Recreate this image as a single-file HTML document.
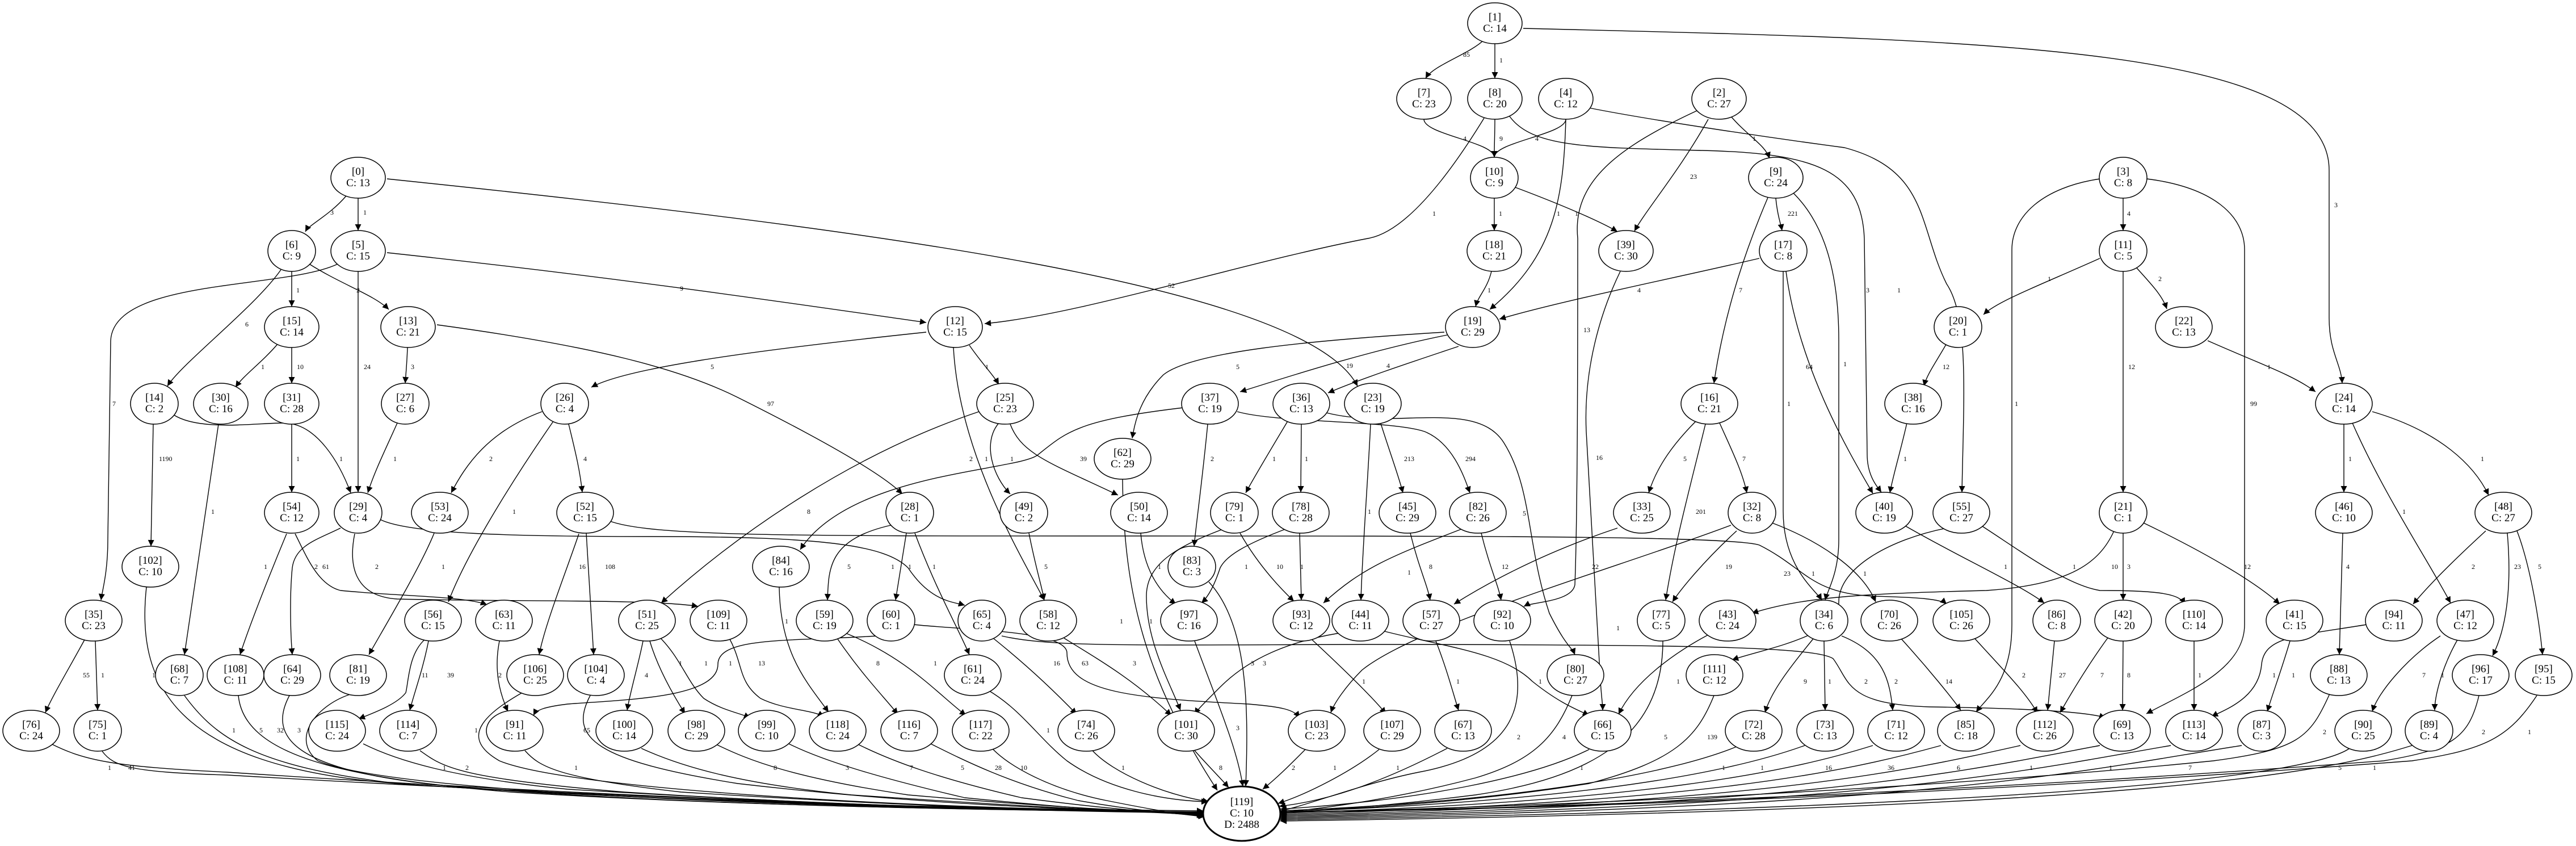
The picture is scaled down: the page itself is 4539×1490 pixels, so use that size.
<!DOCTYPE html>
<html><head><meta charset="utf-8"><style>
html,body{margin:0;padding:0;background:#fff;}
svg{display:block;}
.n ellipse{fill:#fff;stroke:#000;stroke-width:1.5;}
.n text{font-family:"Liberation Serif",serif;font-size:19px;text-anchor:middle;fill:#000;}
.e path{fill:none;stroke:#000;stroke-width:1.4;marker-end:url(#a);}
.l text{font-family:"Liberation Serif",serif;font-size:12px;fill:#000;}
</style></head><body>
<svg width="4539" height="1490" viewBox="0 0 4539 1490" xmlns="http://www.w3.org/2000/svg">
<defs><marker id="a" viewBox="0 0 10 10" refX="10" refY="5" markerWidth="14" markerHeight="11" markerUnits="userSpaceOnUse" orient="auto"><path d="M0,0 L10,5 L0,10 z" fill="#000"/></marker></defs>
<g class="e">
<path d="M2615 70 C2590 95,2525 115,2512 138"/>
<path d="M2634 77 C2634 101,2634 114,2634 138"/>
<path d="M2684 50 C3500 70,4104 80,4104 300 L4104 560 C4104 620,4125 640,4127 675"/>
<path d="M2509 210 C2509 237,2633 250,2633 277"/>
<path d="M2634 210 C2634 237,2633 250,2633 277"/>
<path d="M2759 210 C2759 237,2633 250,2633 277"/>
<path d="M2615 208 C2540 330,2470 410,2410 420 C2200 460,1900 555,1735 570"/>
<path d="M2660 205 C2700 260,2800 260,3000 265 C3200 270,3280 300,3285 420 L3290 800 C3290 840,3310 860,3315 867"/>
<path d="M2759 210 C2755 350,2740 450,2625 545"/>
<path d="M2800 190 C2900 210,3100 240,3250 260 C3400 300,3380 400,3430 500 C3470 560,3460 700,3457 867"/>
<path d="M3050 205 C3080 240,3110 255,3118 279"/>
<path d="M3010 210 C2960 300,2900 370,2880 407"/>
<path d="M2990 195 C2850 260,2770 320,2780 420 C2780 600,2780 900,2775 1030 C2770 1060,2700 1060,2685 1068"/>
<path d="M2633 349 C2633 380,2633 395,2633 406"/>
<path d="M2670 330 C2750 360,2820 390,2850 408"/>
<path d="M2628 478 C2620 510,2605 520,2600 540"/>
<path d="M3129 349 C3132 380,3138 395,3140 406"/>
<path d="M3115 348 C3080 430,3040 540,3020 675"/>
<path d="M3160 340 C3200 380,3240 450,3240 600 L3240 950 C3240 1010,3220 1040,3216 1057"/>
<path d="M3100 455 C2950 490,2750 530,2642 562"/>
<path d="M3147 478 C3170 650,3260 800,3300 869"/>
<path d="M3142 478 L3142 900 C3142 1000,3200 1040,3210 1057"/>
<path d="M2855 478 C2820 550,2790 650,2795 760 L2820 1200 C2822 1230,2824 1240,2824 1251"/>
<path d="M610 345 C580 380,545 395,538 408"/>
<path d="M631 349 C631 375,631 395,631 406"/>
<path d="M682 315 C1500 400,2300 500,2392 680"/>
<path d="M495 475 C450 540,320 640,295 680"/>
<path d="M514 478 L514 540"/>
<path d="M545 465 C600 500,660 520,685 545"/>
<path d="M595 465 C500 510,200 490,195 600 L190 950 C190 1010,180 1040,178 1057"/>
<path d="M631 478 L631 867"/>
<path d="M682 445 C1100 490,1400 535,1632 568"/>
<path d="M490 605 C460 640,430 660,415 682"/>
<path d="M514 612 L514 675"/>
<path d="M718 612 C717 640,715 660,714 675"/>
<path d="M770 572 C1050 610,1200 650,1300 700 C1420 760,1550 830,1590 870"/>
<path d="M1632 585 C1300 620,1100 650,1042 682"/>
<path d="M1708 608 C1730 640,1750 660,1760 677"/>
<path d="M1680 612 C1690 800,1800 980,1840 1057"/>
<path d="M2545 585 C2300 600,2100 620,2050 660 C2010 700,2000 740,1995 772"/>
<path d="M2550 590 C2400 620,2250 670,2185 690"/>
<path d="M2570 610 C2480 640,2390 670,2340 692"/>
<path d="M270 747 L266 962"/>
<path d="M305 730 C350 760,450 745,500 745 C560 745,600 820,618 868"/>
<path d="M385 747 L325 1153"/>
<path d="M514 747 L514 867"/>
<path d="M700 745 C680 790,660 830,648 868"/>
<path d="M955 725 C860 760,820 820,795 868"/>
<path d="M975 742 C900 850,820 980,790 1060"/>
<path d="M1002 747 C1015 800,1022 830,1026 867"/>
<path d="M1725 725 C1500 800,1300 940,1165 1062"/>
<path d="M1760 745 C1730 780,1750 840,1780 870"/>
<path d="M1780 747 C1800 800,1850 815,1970 872"/>
<path d="M2085 718 C1900 740,1880 760,1830 800 C1800 830,1500 830,1410 968"/>
<path d="M2128 747 C2118 850,2108 920,2104 962"/>
<path d="M2180 725 C2250 745,2450 740,2510 760 C2560 780,2580 840,2590 868"/>
<path d="M2270 740 C2240 790,2210 840,2195 868"/>
<path d="M2293 747 L2292 867"/>
<path d="M2330 725 C2450 760,2600 700,2650 780 C2700 860,2690 960,2730 1080 C2760 1140,2770 1140,2775 1153"/>
<path d="M2415 747 C2410 850,2400 980,2398 1057"/>
<path d="M2433 746 C2450 800,2465 840,2472 868"/>
<path d="M2990 740 C2950 780,2920 820,2905 868"/>
<path d="M3005 747 C2980 850,2950 960,2935 1057"/>
<path d="M3030 745 C3050 790,3070 830,3078 868"/>
<path d="M3360 745 C3350 790,3335 840,3330 868"/>
<path d="M3430 605 C3410 640,3395 660,3390 680"/>
<path d="M3700 455 C3600 500,3520 530,3495 554"/>
<path d="M3741 478 L3741 867"/>
<path d="M3765 472 C3790 500,3810 520,3818 544"/>
<path d="M3741 349 L3741 406"/>
<path d="M3700 315 C3600 330,3545 380,3545 440 L3545 1100 C3545 1200,3500 1230,3482 1254"/>
<path d="M3783 315 C3900 330,3955 380,3955 440 L3955 1100 C3955 1180,3850 1220,3782 1257"/>
<path d="M3890 600 C3980 640,4040 660,4080 690"/>
<path d="M4130 747 L4130 867"/>
<path d="M4145 745 C4200 870,4280 990,4318 1062"/>
<path d="M4180 725 C4300 760,4360 820,4385 872"/>
<path d="M505 940 C480 1000,440 1100,423 1153"/>
<path d="M520 940 C540 980,560 1030,600 1040 C700 1050,820 1050,858 1065"/>
<path d="M600 930 C560 950,520 960,515 1000 C510 1050,512 1120,515 1153"/>
<path d="M625 940 C615 990,620 1050,700 1055 C900 1060,1150 1055,1230 1068"/>
<path d="M670 915 C720 940,900 945,1150 945 C1450 945,1560 960,1600 1000 C1640 1060,1680 1060,1700 1066"/>
<path d="M765 939 C740 1000,680 1100,650 1153"/>
<path d="M1020 940 C1000 1000,960 1100,950 1153"/>
<path d="M1033 939 L1046 1153"/>
<path d="M1075 918 C1150 945,1400 944,2000 944 C2600 944,3050 944,3100 960 C3180 1000,3190 1045,3300 1050 C3380 1052,3420 1055,3430 1064"/>
<path d="M1570 925 C1460 950,1460 1000,1458 1057"/>
<path d="M1597 939 L1578 1057"/>
<path d="M1612 939 C1650 1040,1690 1110,1708 1153"/>
<path d="M1813 939 C1825 1000,1835 1030,1840 1057"/>
<path d="M2010 939 C2015 1000,2040 1040,2072 1064"/>
<path d="M2160 930 C2080 960,2020 990,2020 1050 C2020 1130,2060 1200,2080 1251"/>
<path d="M2185 939 C2220 1000,2260 1040,2280 1059"/>
<path d="M2270 930 C2190 960,2160 980,2150 1000 C2140 1030,2130 1050,2117 1062"/>
<path d="M2290 939 L2293 1057"/>
<path d="M1978 844 C1980 1050,2020 1200,2145 1392"/>
<path d="M2130 1025 C2200 1100,2200 1250,2195 1385"/>
<path d="M2485 939 C2500 1000,2515 1030,2520 1057"/>
<path d="M2580 930 C2450 980,2400 1000,2332 1062"/>
<path d="M2610 939 C2625 1000,2640 1030,2645 1057"/>
<path d="M2850 930 C2700 980,2600 1040,2562 1064"/>
<path d="M3060 935 C3000 990,2960 1040,2947 1060"/>
<path d="M3050 925 C2850 1000,2500 1100,2400 1180 C2370 1210,2350 1240,2345 1255"/>
<path d="M3120 920 C3200 950,3280 1000,3305 1060"/>
<path d="M3355 925 C3450 980,3560 1030,3602 1062"/>
<path d="M3430 930 C3330 950,3240 1000,3240 1060 C3240 1120,3120 1140,3052 1162"/>
<path d="M3490 925 C3560 970,3640 1030,3700 1040 C3800 1040,3840 1045,3850 1064"/>
<path d="M3725 935 C3700 990,3650 1030,3500 1040 C3300 1045,3180 1050,3087 1080"/>
<path d="M3741 939 L3741 1057"/>
<path d="M3775 920 C3900 980,3980 1030,4017 1064"/>
<path d="M4128 939 L4122 1153"/>
<path d="M4380 935 C4320 990,4280 1030,4252 1064"/>
<path d="M4418 939 C4425 1020,4420 1100,4392 1155"/>
<path d="M4435 935 C4460 1000,4475 1100,4480 1153"/>
<path d="M258 1034 C240 1200,300 1350,700 1380 C1200 1415,1800 1425,2120 1428"/>
<path d="M1373 1034 C1375 1150,1420 1200,1460 1254"/>
<path d="M150 1125 C120 1180,90 1230,80 1255"/>
<path d="M168 1129 L172 1251"/>
<path d="M750 1125 C720 1150,720 1200,715 1220 C700 1240,660 1255,632 1266"/>
<path d="M755 1129 C745 1180,730 1220,722 1251"/>
<path d="M880 1129 C870 1180,880 1220,895 1253"/>
<path d="M1133 1129 C1125 1170,1110 1220,1105 1251"/>
<path d="M1145 1129 C1160 1180,1190 1230,1207 1257"/>
<path d="M1162 1122 C1200 1160,1210 1200,1240 1230 C1270 1250,1300 1255,1322 1264"/>
<path d="M1285 1124 C1310 1170,1300 1200,1340 1230 C1380 1250,1430 1250,1452 1262"/>
<path d="M1475 1124 C1520 1190,1560 1230,1582 1258"/>
<path d="M1490 1115 C1600 1160,1650 1220,1702 1260"/>
<path d="M1545 1120 C1400 1130,1265 1120,1265 1170 C1265 1230,1100 1232,1000 1240 C960 1245,945 1250,940 1260"/>
<path d="M1610 1100 C1700 1110,1880 1110,1880 1150 C1880 1220,2000 1230,2200 1240 C2260 1245,2280 1250,2290 1264"/>
<path d="M1750 1124 C1820 1180,1870 1230,1897 1258"/>
<path d="M1765 1120 C1850 1140,2000 1136,2400 1135 C3000 1135,3200 1140,3230 1160 C3260 1200,3250 1240,3400 1245 C3600 1248,3680 1255,3710 1264"/>
<path d="M1875 1124 C1950 1170,2000 1200,2064 1260"/>
<path d="M2105 1129 C2150 1250,2180 1320,2190 1385"/>
<path d="M2310 1125 C2380 1190,2420 1230,2442 1257"/>
<path d="M2360 1115 C2270 1130,2200 1160,2150 1210 C2120 1240,2110 1250,2105 1258"/>
<path d="M2440 1112 C2550 1140,2650 1150,2700 1200 C2750 1240,2780 1250,2800 1260"/>
<path d="M2530 1129 C2550 1180,2560 1220,2570 1251"/>
<path d="M2660 1129 C2700 1250,2660 1330,2500 1360 C2400 1380,2300 1420,2256 1428"/>
<path d="M2930 1129 C2930 1300,2800 1370,2600 1400 C2400 1425,2300 1428,2256 1430"/>
<path d="M3010 1118 C2950 1150,2880 1200,2852 1258"/>
<path d="M3195 1125 C3150 1180,3120 1220,3110 1255"/>
<path d="M3214 1129 L3216 1251"/>
<path d="M3245 1120 C3320 1150,3330 1200,3335 1251"/>
<path d="M3350 1125 C3400 1180,3440 1230,3455 1251"/>
<path d="M3480 1125 C3530 1180,3570 1220,3590 1256"/>
<path d="M3620 1129 L3608 1251"/>
<path d="M3715 1122 C3680 1170,3650 1220,3630 1255"/>
<path d="M3741 1129 L3740 1251"/>
<path d="M3866 1129 L3866 1251"/>
<path d="M4035 1129 C4020 1180,4005 1220,3995 1253"/>
<path d="M4170 1100 C4050 1120,3990 1120,3985 1170 C3980 1230,3920 1250,3897 1262"/>
<path d="M4300 1120 C4240 1160,4190 1220,4180 1253"/>
<path d="M4330 1127 C4300 1180,4290 1230,4290 1251"/>
<path d="M325 1225 C380 1300,450 1350,700 1380 C1200 1415,1800 1427,2120 1430"/>
<path d="M420 1225 C430 1330,600 1370,900 1395 C1300 1420,1800 1428,2120 1430"/>
<path d="M510 1225 C470 1300,520 1360,800 1385 C1200 1420,1800 1428,2120 1430"/>
<path d="M620 1222 C560 1240,510 1300,560 1340 C700 1400,1500 1425,2120 1430"/>
<path d="M920 1220 C850 1260,810 1300,880 1340 C1000 1390,1600 1425,2120 1430"/>
<path d="M1040 1225 C1000 1300,1050 1340,1300 1380 C1600 1415,1900 1428,2120 1430"/>
<path d="M1740 1215 C1800 1250,1830 1300,1880 1340 C1950 1390,2050 1410,2128 1412"/>
<path d="M2770 1225 C2740 1300,2700 1340,2600 1370 C2450 1410,2300 1428,2256 1430"/>
<path d="M3020 1225 C2990 1300,2950 1340,2800 1380 C2550 1420,2300 1428,2256 1430"/>
<path d="M4105 1222 C4070 1300,4050 1320,3900 1340 C3300 1400,2500 1428,2256 1430"/>
<path d="M4368 1225 C4350 1300,4320 1320,4200 1340 C3400 1400,2600 1428,2256 1430"/>
<path d="M4470 1225 C4420 1300,4380 1320,4250 1340 C3400 1405,2600 1428,2256 1430"/>
<path d="M90 1310 C150 1340,200 1350,400 1360 C1000 1400,1700 1428,2120 1430"/>
<path d="M180 1323 C200 1350,230 1360,400 1365 C1000 1400,1700 1428,2120 1431"/>
<path d="M640 1310 C700 1340,800 1370,1000 1390 C1500 1420,1800 1428,2120 1431"/>
<path d="M740 1322 C780 1350,800 1370,1100 1395 C1500 1420,1800 1428,2120 1432"/>
<path d="M925 1322 C950 1350,980 1370,1200 1395 C1600 1420,1850 1428,2120 1432"/>
<path d="M1130 1318 C1200 1350,1300 1380,1500 1400 C1800 1420,1950 1428,2120 1433"/>
<path d="M1260 1310 C1320 1340,1400 1370,1600 1400 C1850 1422,2000 1428,2120 1434"/>
<path d="M1390 1310 C1450 1340,1550 1370,1700 1405 C1900 1425,2000 1430,2120 1435"/>
<path d="M1510 1310 C1570 1340,1650 1370,1800 1405 C1950 1425,2050 1432,2120 1436"/>
<path d="M1640 1310 C1700 1340,1780 1380,1900 1410 C2000 1428,2080 1434,2122 1437"/>
<path d="M1750 1320 C1780 1350,1850 1390,1950 1410 C2040 1428,2090 1436,2123 1438"/>
<path d="M1925 1322 C1960 1360,2050 1400,2130 1412"/>
<path d="M2105 1322 C2130 1350,2150 1370,2165 1387"/>
<path d="M2300 1320 C2270 1350,2250 1370,2225 1390"/>
<path d="M2430 1320 C2380 1360,2300 1400,2252 1415"/>
<path d="M2550 1318 C2450 1370,2350 1410,2254 1420"/>
<path d="M2800 1320 C2700 1370,2500 1410,2256 1425"/>
<path d="M3060 1315 C2950 1360,2700 1410,2256 1428"/>
<path d="M3180 1313 C3050 1360,2800 1410,2256 1430"/>
<path d="M3300 1313 C3150 1360,2900 1412,2256 1432"/>
<path d="M3420 1313 C3250 1360,3000 1414,2256 1434"/>
<path d="M3560 1313 C3350 1360,3100 1416,2256 1436"/>
<path d="M3700 1313 C3450 1360,3200 1418,2256 1438"/>
<path d="M3825 1313 C3550 1360,3300 1420,2256 1440"/>
<path d="M3950 1313 C3650 1360,3400 1422,2256 1442"/>
<path d="M4140 1318 C4080 1360,3700 1420,2256 1444"/>
<path d="M4250 1313 C4100 1360,3800 1424,2256 1446"/>
</g>
<g class="l">
<text x="2578" y="100">85</text><text x="2642" y="110">1</text><text x="4113" y="365">3</text>
<text x="2578" y="248">4</text><text x="2642" y="248">9</text><text x="2705" y="248">4</text>
<text x="2524" y="380">1</text><text x="3288" y="515">3</text><text x="2743" y="380">1</text><text x="3343" y="515">1</text>
<text x="3088" y="248">1</text><text x="2978" y="315">23</text><text x="2790" y="585">13</text>
<text x="2641" y="380">1</text><text x="2775" y="380">1</text><text x="2621" y="515">1</text>
<text x="3150" y="380">221</text><text x="3064" y="515">7</text><text x="3248" y="645">1</text>
<text x="2885" y="515">4</text><text x="3182" y="650">64</text><text x="3149" y="715">1</text><text x="2812" y="810">16</text>
<text x="582" y="378">3</text><text x="640" y="378">1</text><text x="2058" y="507">52</text>
<text x="432" y="575">6</text><text x="522" y="515">1</text><text x="628" y="515">2</text>
<text x="198" y="715">7</text><text x="641" y="650">24</text><text x="1198" y="512">9</text>
<text x="460" y="650">1</text><text x="523" y="650">10</text><text x="724" y="650">3</text><text x="1352" y="715">97</text>
<text x="1252" y="650">5</text><text x="1736" y="650">1</text><text x="1708" y="812">2</text>
<text x="2178" y="650">5</text><text x="2372" y="648">19</text><text x="2443" y="648">4</text>
<text x="280" y="812">1190</text><text x="598" y="812">1</text><text x="372" y="905">1</text><text x="522" y="812">1</text><text x="693" y="812">1</text>
<text x="862" y="812">2</text><text x="903" y="905">1</text><text x="1028" y="812">4</text>
<text x="1422" y="905">8</text><text x="1735" y="812">1</text><text x="1780" y="812">1</text>
<text x="1903" y="812">39</text><text x="2133" y="812">2</text><text x="2582" y="812">294</text>
<text x="2242" y="812">1</text><text x="2299" y="812">1</text><text x="2683" y="908">5</text>
<text x="2410" y="905">1</text><text x="2474" y="812">213</text>
<text x="2966" y="812">5</text><text x="2988" y="905">201</text><text x="3070" y="812">7</text>
<text x="3354" y="812">1</text><text x="3423" y="650">12</text><text x="3608" y="495">1</text><text x="3750" y="650">12</text><text x="3803" y="495">2</text>
<text x="3748" y="380">4</text><text x="3550" y="715">1</text><text x="3965" y="715">99</text>
<text x="3995" y="650">1</text><text x="4138" y="812">1</text><text x="4233" y="905">1</text><text x="4371" y="812">1</text>
<text x="465" y="1002">1</text><text x="568" y="1002">61</text><text x="554" y="1002">2</text><text x="661" y="1002">2</text><text x="1570" y="1002">1</text>
<text x="778" y="1002">1</text><text x="1020" y="1002">16</text><text x="1066" y="1002">108</text><text x="3143" y="1014">23</text>
<text x="1493" y="1002">5</text><text x="1600" y="1002">1</text><text x="1643" y="1002">1</text><text x="1840" y="1002">5</text>
<text x="2040" y="1002">1</text><text x="2025" y="1098">1</text><text x="2249" y="1002">10</text><text x="2193" y="1002">1</text><text x="2291" y="1002">1</text>
<text x="1973" y="1098">1</text><text x="2225" y="1172">3</text>
<text x="2518" y="1002">8</text><text x="2480" y="1012">1</text><text x="2646" y="1002">12</text>
<text x="2805" y="1002">22</text><text x="3040" y="1002">19</text><text x="2848" y="1110">1</text><text x="3283" y="1014">1</text>
<text x="3531" y="1002">1</text><text x="3192" y="1014">1</text><text x="3652" y="1002">1</text>
<text x="3720" y="1002">10</text><text x="3748" y="1002">3</text><text x="3954" y="1002">12</text>
<text x="4134" y="1002">4</text><text x="4355" y="1002">2</text><text x="4430" y="1002">23</text><text x="4472" y="1002">5</text>
<text x="268" y="1193">1</text><text x="1383" y="1098">1</text><text x="146" y="1193">55</text><text x="178" y="1193">1</text>
<text x="743" y="1193">11</text><text x="788" y="1193">39</text><text x="878" y="1193">2</text>
<text x="1136" y="1193">4</text><text x="1196" y="1172">1</text><text x="1241" y="1172">1</text><text x="1336" y="1172">13</text>
<text x="1544" y="1172">8</text><text x="1645" y="1172">1</text><text x="1284" y="1172">1</text><text x="1906" y="1172">63</text>
<text x="1856" y="1172">16</text><text x="3285" y="1204">2</text><text x="1996" y="1172">3</text>
<text x="2178" y="1286">3</text><text x="2400" y="1204">1</text><text x="2204" y="1172">3</text><text x="2711" y="1204">1</text>
<text x="2566" y="1204">1</text><text x="2673" y="1302">2</text><text x="2932" y="1302">5</text>
<text x="2954" y="1204">1</text><text x="3178" y="1204">9</text><text x="3221" y="1204">1</text><text x="3338" y="1204">2</text>
<text x="3428" y="1204">14</text><text x="3563" y="1193">2</text><text x="3628" y="1193">27</text><text x="3701" y="1193">7</text>
<text x="3748" y="1193">8</text><text x="3873" y="1193">1</text><text x="4038" y="1193">1</text><text x="4004" y="1193">1</text>
<text x="4268" y="1193">7</text><text x="4301" y="1193">1</text>
<text x="409" y="1290">1</text><text x="457" y="1290">5</text><text x="488" y="1290">32</text><text x="524" y="1290">3</text>
<text x="836" y="1290">1</text><text x="1028" y="1290">65</text><text x="1844" y="1290">1</text>
<text x="2753" y="1302">4</text><text x="3008" y="1302">139</text>
<text x="4093" y="1293">2</text><text x="4373" y="1293">2</text><text x="4454" y="1293">1</text>
<text x="190" y="1356">1</text><text x="226" y="1356">41</text><text x="780" y="1356">1</text><text x="820" y="1356">2</text>
<text x="1012" y="1356">1</text><text x="1363" y="1356">8</text><text x="1490" y="1356">3</text><text x="1603" y="1356">7</text>
<text x="1693" y="1356">5</text><text x="1753" y="1356">28</text><text x="1798" y="1356">10</text><text x="1976" y="1356">1</text>
<text x="2148" y="1356">8</text><text x="2276" y="1356">2</text><text x="2349" y="1356">1</text><text x="2460" y="1356">1</text>
<text x="2784" y="1356">1</text><text x="3034" y="1356">1</text><text x="3102" y="1356">1</text><text x="3216" y="1356">16</text>
<text x="3326" y="1356">36</text><text x="3448" y="1356">6</text><text x="3576" y="1356">1</text><text x="3716" y="1356">1</text>
<text x="3856" y="1356">7</text><text x="4120" y="1356">5</text><text x="4181" y="1356">1</text>
</g>
<g class="n">
<g><ellipse cx="2634" cy="41" rx="48" ry="36"/><text x="2634" y="36">[1]</text><text x="2634" y="56">C: 14</text></g>
<g><ellipse cx="2509" cy="174" rx="48" ry="36"/><text x="2509" y="169">[7]</text><text x="2509" y="189">C: 23</text></g>
<g><ellipse cx="2634" cy="174" rx="48" ry="36"/><text x="2634" y="169">[8]</text><text x="2634" y="189">C: 20</text></g>
<g><ellipse cx="2759" cy="174" rx="48" ry="36"/><text x="2759" y="169">[4]</text><text x="2759" y="189">C: 12</text></g>
<g><ellipse cx="3029" cy="174" rx="48" ry="36"/><text x="3029" y="169">[2]</text><text x="3029" y="189">C: 27</text></g>
<g><ellipse cx="631" cy="313" rx="48" ry="36"/><text x="631" y="308">[0]</text><text x="631" y="328">C: 13</text></g>
<g><ellipse cx="2633" cy="313" rx="42" ry="36"/><text x="2633" y="308">[10]</text><text x="2633" y="328">C: 9</text></g>
<g><ellipse cx="3129" cy="313" rx="48" ry="36"/><text x="3129" y="308">[9]</text><text x="3129" y="328">C: 24</text></g>
<g><ellipse cx="3741" cy="313" rx="42" ry="36"/><text x="3741" y="308">[3]</text><text x="3741" y="328">C: 8</text></g>
<g><ellipse cx="514" cy="442" rx="42" ry="36"/><text x="514" y="437">[6]</text><text x="514" y="457">C: 9</text></g>
<g><ellipse cx="631" cy="442" rx="48" ry="36"/><text x="631" y="437">[5]</text><text x="631" y="457">C: 15</text></g>
<g><ellipse cx="2633" cy="442" rx="48" ry="36"/><text x="2633" y="437">[18]</text><text x="2633" y="457">C: 21</text></g>
<g><ellipse cx="2865" cy="442" rx="48" ry="36"/><text x="2865" y="437">[39]</text><text x="2865" y="457">C: 30</text></g>
<g><ellipse cx="3142" cy="442" rx="42" ry="36"/><text x="3142" y="437">[17]</text><text x="3142" y="457">C: 8</text></g>
<g><ellipse cx="3741" cy="442" rx="42" ry="36"/><text x="3741" y="437">[11]</text><text x="3741" y="457">C: 5</text></g>
<g><ellipse cx="514" cy="576" rx="48" ry="36"/><text x="514" y="571">[15]</text><text x="514" y="591">C: 14</text></g>
<g><ellipse cx="719" cy="576" rx="48" ry="36"/><text x="719" y="571">[13]</text><text x="719" y="591">C: 21</text></g>
<g><ellipse cx="1683" cy="576" rx="48" ry="36"/><text x="1683" y="571">[12]</text><text x="1683" y="591">C: 15</text></g>
<g><ellipse cx="2595" cy="576" rx="48" ry="36"/><text x="2595" y="571">[19]</text><text x="2595" y="591">C: 29</text></g>
<g><ellipse cx="3450" cy="576" rx="42" ry="36"/><text x="3450" y="571">[20]</text><text x="3450" y="591">C: 1</text></g>
<g><ellipse cx="3848" cy="576" rx="50" ry="36"/><text x="3848" y="571">[22]</text><text x="3848" y="591">C: 13</text></g>
<g><ellipse cx="272" cy="711" rx="42" ry="36"/><text x="272" y="706">[14]</text><text x="272" y="726">C: 2</text></g>
<g><ellipse cx="389" cy="711" rx="48" ry="36"/><text x="389" y="706">[30]</text><text x="389" y="726">C: 16</text></g>
<g><ellipse cx="514" cy="711" rx="48" ry="36"/><text x="514" y="706">[31]</text><text x="514" y="726">C: 28</text></g>
<g><ellipse cx="714" cy="711" rx="42" ry="36"/><text x="714" y="706">[27]</text><text x="714" y="726">C: 6</text></g>
<g><ellipse cx="995" cy="711" rx="42" ry="36"/><text x="995" y="706">[26]</text><text x="995" y="726">C: 4</text></g>
<g><ellipse cx="1771" cy="711" rx="50" ry="36"/><text x="1771" y="706">[25]</text><text x="1771" y="726">C: 23</text></g>
<g><ellipse cx="2132" cy="711" rx="50" ry="36"/><text x="2132" y="706">[37]</text><text x="2132" y="726">C: 19</text></g>
<g><ellipse cx="2293" cy="711" rx="50" ry="36"/><text x="2293" y="706">[36]</text><text x="2293" y="726">C: 13</text></g>
<g><ellipse cx="2419" cy="711" rx="50" ry="36"/><text x="2419" y="706">[23]</text><text x="2419" y="726">C: 19</text></g>
<g><ellipse cx="3012" cy="711" rx="50" ry="36"/><text x="3012" y="706">[16]</text><text x="3012" y="726">C: 21</text></g>
<g><ellipse cx="3371" cy="711" rx="50" ry="36"/><text x="3371" y="706">[38]</text><text x="3371" y="726">C: 16</text></g>
<g><ellipse cx="4130" cy="711" rx="50" ry="36"/><text x="4130" y="706">[24]</text><text x="4130" y="726">C: 14</text></g>
<g><ellipse cx="1978" cy="808" rx="50" ry="36"/><text x="1978" y="803">[62]</text><text x="1978" y="823">C: 29</text></g>
<g><ellipse cx="514" cy="903" rx="48" ry="36"/><text x="514" y="898">[54]</text><text x="514" y="918">C: 12</text></g>
<g><ellipse cx="631" cy="903" rx="42" ry="36"/><text x="631" y="898">[29]</text><text x="631" y="918">C: 4</text></g>
<g><ellipse cx="775" cy="903" rx="50" ry="36"/><text x="775" y="898">[53]</text><text x="775" y="918">C: 24</text></g>
<g><ellipse cx="1031" cy="903" rx="50" ry="36"/><text x="1031" y="898">[52]</text><text x="1031" y="918">C: 15</text></g>
<g><ellipse cx="1603" cy="903" rx="42" ry="36"/><text x="1603" y="898">[28]</text><text x="1603" y="918">C: 1</text></g>
<g><ellipse cx="1804" cy="903" rx="42" ry="36"/><text x="1804" y="898">[49]</text><text x="1804" y="918">C: 2</text></g>
<g><ellipse cx="2007" cy="903" rx="50" ry="36"/><text x="2007" y="898">[50]</text><text x="2007" y="918">C: 14</text></g>
<g><ellipse cx="2175" cy="903" rx="42" ry="36"/><text x="2175" y="898">[79]</text><text x="2175" y="918">C: 1</text></g>
<g><ellipse cx="2292" cy="903" rx="50" ry="36"/><text x="2292" y="898">[78]</text><text x="2292" y="918">C: 28</text></g>
<g><ellipse cx="2480" cy="903" rx="50" ry="36"/><text x="2480" y="898">[45]</text><text x="2480" y="918">C: 29</text></g>
<g><ellipse cx="2604" cy="903" rx="50" ry="36"/><text x="2604" y="898">[82]</text><text x="2604" y="918">C: 26</text></g>
<g><ellipse cx="2893" cy="903" rx="50" ry="36"/><text x="2893" y="898">[33]</text><text x="2893" y="918">C: 25</text></g>
<g><ellipse cx="3087" cy="903" rx="42" ry="36"/><text x="3087" y="898">[32]</text><text x="3087" y="918">C: 8</text></g>
<g><ellipse cx="3320" cy="903" rx="50" ry="36"/><text x="3320" y="898">[40]</text><text x="3320" y="918">C: 19</text></g>
<g><ellipse cx="3456" cy="903" rx="50" ry="36"/><text x="3456" y="898">[55]</text><text x="3456" y="918">C: 27</text></g>
<g><ellipse cx="3741" cy="903" rx="42" ry="36"/><text x="3741" y="898">[21]</text><text x="3741" y="918">C: 1</text></g>
<g><ellipse cx="4130" cy="903" rx="50" ry="36"/><text x="4130" y="898">[46]</text><text x="4130" y="918">C: 10</text></g>
<g><ellipse cx="4411" cy="903" rx="50" ry="36"/><text x="4411" y="898">[48]</text><text x="4411" y="918">C: 27</text></g>
<g><ellipse cx="265" cy="998" rx="50" ry="36"/><text x="265" y="993">[102]</text><text x="265" y="1013">C: 10</text></g>
<g><ellipse cx="1376" cy="998" rx="50" ry="36"/><text x="1376" y="993">[84]</text><text x="1376" y="1013">C: 16</text></g>
<g><ellipse cx="2100" cy="998" rx="42" ry="36"/><text x="2100" y="993">[83]</text><text x="2100" y="1013">C: 3</text></g>
<g><ellipse cx="165" cy="1093" rx="50" ry="36"/><text x="165" y="1088">[35]</text><text x="165" y="1108">C: 23</text></g>
<g><ellipse cx="763" cy="1093" rx="50" ry="36"/><text x="763" y="1088">[56]</text><text x="763" y="1108">C: 15</text></g>
<g><ellipse cx="888" cy="1093" rx="50" ry="36"/><text x="888" y="1088">[63]</text><text x="888" y="1108">C: 11</text></g>
<g><ellipse cx="1140" cy="1093" rx="50" ry="36"/><text x="1140" y="1088">[51]</text><text x="1140" y="1108">C: 25</text></g>
<g><ellipse cx="1266" cy="1093" rx="50" ry="36"/><text x="1266" y="1088">[109]</text><text x="1266" y="1108">C: 11</text></g>
<g><ellipse cx="1453" cy="1093" rx="50" ry="36"/><text x="1453" y="1088">[59]</text><text x="1453" y="1108">C: 19</text></g>
<g><ellipse cx="1570" cy="1093" rx="42" ry="36"/><text x="1570" y="1088">[60]</text><text x="1570" y="1108">C: 1</text></g>
<g><ellipse cx="1730" cy="1093" rx="42" ry="36"/><text x="1730" y="1088">[65]</text><text x="1730" y="1108">C: 4</text></g>
<g><ellipse cx="1847" cy="1093" rx="50" ry="36"/><text x="1847" y="1088">[58]</text><text x="1847" y="1108">C: 12</text></g>
<g><ellipse cx="2095" cy="1093" rx="50" ry="36"/><text x="2095" y="1088">[97]</text><text x="2095" y="1108">C: 16</text></g>
<g><ellipse cx="2293" cy="1093" rx="50" ry="36"/><text x="2293" y="1088">[93]</text><text x="2293" y="1108">C: 12</text></g>
<g><ellipse cx="2397" cy="1093" rx="50" ry="36"/><text x="2397" y="1088">[44]</text><text x="2397" y="1108">C: 11</text></g>
<g><ellipse cx="2522" cy="1093" rx="50" ry="36"/><text x="2522" y="1088">[57]</text><text x="2522" y="1108">C: 27</text></g>
<g><ellipse cx="2647" cy="1093" rx="50" ry="36"/><text x="2647" y="1088">[92]</text><text x="2647" y="1108">C: 10</text></g>
<g><ellipse cx="2927" cy="1093" rx="42" ry="36"/><text x="2927" y="1088">[77]</text><text x="2927" y="1108">C: 5</text></g>
<g><ellipse cx="3044" cy="1093" rx="50" ry="36"/><text x="3044" y="1088">[43]</text><text x="3044" y="1108">C: 24</text></g>
<g><ellipse cx="3214" cy="1093" rx="42" ry="36"/><text x="3214" y="1088">[34]</text><text x="3214" y="1108">C: 6</text></g>
<g><ellipse cx="3329" cy="1093" rx="50" ry="36"/><text x="3329" y="1088">[70]</text><text x="3329" y="1108">C: 26</text></g>
<g><ellipse cx="3456" cy="1093" rx="50" ry="36"/><text x="3456" y="1088">[105]</text><text x="3456" y="1108">C: 26</text></g>
<g><ellipse cx="3624" cy="1093" rx="42" ry="36"/><text x="3624" y="1088">[86]</text><text x="3624" y="1108">C: 8</text></g>
<g><ellipse cx="3741" cy="1093" rx="50" ry="36"/><text x="3741" y="1088">[42]</text><text x="3741" y="1108">C: 20</text></g>
<g><ellipse cx="3866" cy="1093" rx="50" ry="36"/><text x="3866" y="1088">[110]</text><text x="3866" y="1108">C: 14</text></g>
<g><ellipse cx="4043" cy="1093" rx="50" ry="36"/><text x="4043" y="1088">[41]</text><text x="4043" y="1108">C: 15</text></g>
<g><ellipse cx="4218" cy="1093" rx="50" ry="36"/><text x="4218" y="1088">[94]</text><text x="4218" y="1108">C: 11</text></g>
<g><ellipse cx="4344" cy="1093" rx="50" ry="36"/><text x="4344" y="1088">[47]</text><text x="4344" y="1108">C: 12</text></g>
<g><ellipse cx="316" cy="1189" rx="42" ry="36"/><text x="316" y="1184">[68]</text><text x="316" y="1204">C: 7</text></g>
<g><ellipse cx="415" cy="1189" rx="50" ry="36"/><text x="415" y="1184">[108]</text><text x="415" y="1204">C: 11</text></g>
<g><ellipse cx="515" cy="1189" rx="50" ry="36"/><text x="515" y="1184">[64]</text><text x="515" y="1204">C: 29</text></g>
<g><ellipse cx="631" cy="1189" rx="50" ry="36"/><text x="631" y="1184">[81]</text><text x="631" y="1204">C: 19</text></g>
<g><ellipse cx="943" cy="1189" rx="50" ry="36"/><text x="943" y="1184">[106]</text><text x="943" y="1204">C: 25</text></g>
<g><ellipse cx="1050" cy="1189" rx="50" ry="36"/><text x="1050" y="1184">[104]</text><text x="1050" y="1204">C: 4</text></g>
<g><ellipse cx="1714" cy="1189" rx="50" ry="36"/><text x="1714" y="1184">[61]</text><text x="1714" y="1204">C: 24</text></g>
<g><ellipse cx="2776" cy="1189" rx="50" ry="36"/><text x="2776" y="1184">[80]</text><text x="2776" y="1204">C: 27</text></g>
<g><ellipse cx="3021" cy="1189" rx="50" ry="36"/><text x="3021" y="1184">[111]</text><text x="3021" y="1204">C: 12</text></g>
<g><ellipse cx="4121" cy="1189" rx="50" ry="36"/><text x="4121" y="1184">[88]</text><text x="4121" y="1204">C: 13</text></g>
<g><ellipse cx="4371" cy="1189" rx="50" ry="36"/><text x="4371" y="1184">[96]</text><text x="4371" y="1204">C: 17</text></g>
<g><ellipse cx="4482" cy="1189" rx="50" ry="36"/><text x="4482" y="1184">[95]</text><text x="4482" y="1204">C: 15</text></g>
<g><ellipse cx="55" cy="1287" rx="50" ry="36"/><text x="55" y="1282">[76]</text><text x="55" y="1302">C: 24</text></g>
<g><ellipse cx="172" cy="1287" rx="42" ry="36"/><text x="172" y="1282">[75]</text><text x="172" y="1302">C: 1</text></g>
<g><ellipse cx="594" cy="1287" rx="50" ry="36"/><text x="594" y="1282">[115]</text><text x="594" y="1302">C: 24</text></g>
<g><ellipse cx="719" cy="1287" rx="50" ry="36"/><text x="719" y="1282">[114]</text><text x="719" y="1302">C: 7</text></g>
<g><ellipse cx="907" cy="1287" rx="50" ry="36"/><text x="907" y="1282">[91]</text><text x="907" y="1302">C: 11</text></g>
<g><ellipse cx="1100" cy="1287" rx="50" ry="36"/><text x="1100" y="1282">[100]</text><text x="1100" y="1302">C: 14</text></g>
<g><ellipse cx="1227" cy="1287" rx="50" ry="36"/><text x="1227" y="1282">[98]</text><text x="1227" y="1302">C: 29</text></g>
<g><ellipse cx="1351" cy="1287" rx="50" ry="36"/><text x="1351" y="1282">[99]</text><text x="1351" y="1302">C: 10</text></g>
<g><ellipse cx="1476" cy="1287" rx="50" ry="36"/><text x="1476" y="1282">[118]</text><text x="1476" y="1302">C: 24</text></g>
<g><ellipse cx="1602" cy="1287" rx="50" ry="36"/><text x="1602" y="1282">[116]</text><text x="1602" y="1302">C: 7</text></g>
<g><ellipse cx="1728" cy="1287" rx="50" ry="36"/><text x="1728" y="1282">[117]</text><text x="1728" y="1302">C: 22</text></g>
<g><ellipse cx="1914" cy="1287" rx="50" ry="36"/><text x="1914" y="1282">[74]</text><text x="1914" y="1302">C: 26</text></g>
<g><ellipse cx="2090" cy="1287" rx="50" ry="36"/><text x="2090" y="1282">[101]</text><text x="2090" y="1302">C: 30</text></g>
<g><ellipse cx="2320" cy="1287" rx="50" ry="36"/><text x="2320" y="1282">[103]</text><text x="2320" y="1302">C: 23</text></g>
<g><ellipse cx="2453" cy="1287" rx="50" ry="36"/><text x="2453" y="1282">[107]</text><text x="2453" y="1302">C: 29</text></g>
<g><ellipse cx="2578" cy="1287" rx="50" ry="36"/><text x="2578" y="1282">[67]</text><text x="2578" y="1302">C: 13</text></g>
<g><ellipse cx="2824" cy="1287" rx="50" ry="36"/><text x="2824" y="1282">[66]</text><text x="2824" y="1302">C: 15</text></g>
<g><ellipse cx="3090" cy="1287" rx="50" ry="36"/><text x="3090" y="1282">[72]</text><text x="3090" y="1302">C: 28</text></g>
<g><ellipse cx="3216" cy="1287" rx="50" ry="36"/><text x="3216" y="1282">[73]</text><text x="3216" y="1302">C: 13</text></g>
<g><ellipse cx="3341" cy="1287" rx="50" ry="36"/><text x="3341" y="1282">[71]</text><text x="3341" y="1302">C: 12</text></g>
<g><ellipse cx="3464" cy="1287" rx="50" ry="36"/><text x="3464" y="1282">[85]</text><text x="3464" y="1302">C: 18</text></g>
<g><ellipse cx="3603" cy="1287" rx="50" ry="36"/><text x="3603" y="1282">[112]</text><text x="3603" y="1302">C: 26</text></g>
<g><ellipse cx="3739" cy="1287" rx="50" ry="36"/><text x="3739" y="1282">[69]</text><text x="3739" y="1302">C: 13</text></g>
<g><ellipse cx="3866" cy="1287" rx="50" ry="36"/><text x="3866" y="1282">[113]</text><text x="3866" y="1302">C: 14</text></g>
<g><ellipse cx="3985" cy="1287" rx="42" ry="36"/><text x="3985" y="1282">[87]</text><text x="3985" y="1302">C: 3</text></g>
<g><ellipse cx="4164" cy="1287" rx="50" ry="36"/><text x="4164" y="1282">[90]</text><text x="4164" y="1302">C: 25</text></g>
<g><ellipse cx="4280" cy="1287" rx="42" ry="36"/><text x="4280" y="1282">[89]</text><text x="4280" y="1302">C: 4</text></g>
<g><ellipse cx="2188" cy="1433" rx="68" ry="48" style="stroke-width:3"/><text x="2188" y="1418">[119]</text><text x="2188" y="1438">C: 10</text><text x="2188" y="1458">D: 2488</text></g>
</g>
</svg>
</body></html>
